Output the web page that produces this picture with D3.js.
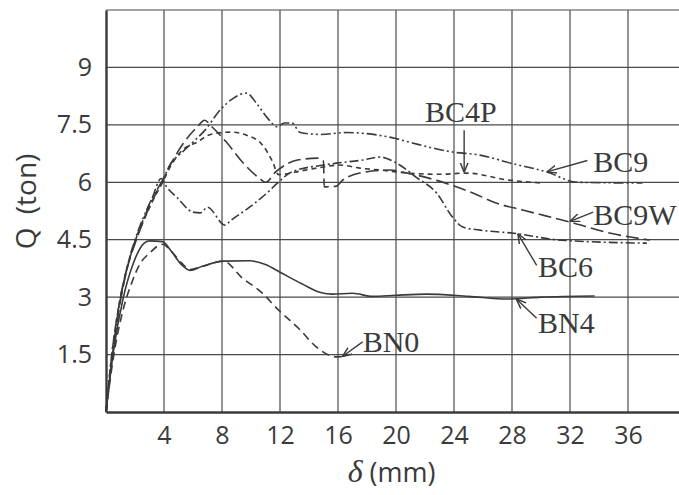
<!DOCTYPE html>
<html>
<head>
<meta charset="utf-8">
<script src="https://cdn.jsdelivr.net/npm/d3@7"></script>
<style>
  body { margin: 0; background: #fff; }
  svg { display: block; }
</style>
</head>
<body>
<script>
// tick labels
const xTicks = [4, 8, 12, 16, 20, 24, 28, 32, 36]
const yTicks = [1.5, 3, 4.5, 6, 7.5, 9]
const yTickLabels = ["1.5", "3", "4.5", "6", "7.5", "9"]

// series, [δ (mm), Q (ton)]
const BN4 = [[0,0],[0.5,1.55],[1.2,3.0],[1.9,3.9],[2.6,4.4],[3,4.47],[3.9,4.45],[4.5,4.2],[5.2,3.85],[5.8,3.7],[6.6,3.8],[8.1,3.94],[9.9,3.95],[11,3.85],[12,3.65],[13.5,3.35],[14.8,3.12],[15.6,3.08],[17,3.1],[18.4,3.02],[20,3.05],[22.1,3.08],[25,3.02],[27.7,2.95],[30,3.0],[33.7,3.03]]
const BN0 = [[0,0],[0.5,1.4],[1.2,2.7],[1.8,3.4],[2.3,3.84],[3,4.15],[3.9,4.38],[4.5,4.2],[5.2,3.9],[5.8,3.72],[6.6,3.8],[8.1,3.94],[9.4,3.5],[10.8,3.1],[11.8,2.7],[13.4,2.14],[14.5,1.7],[15.9,1.44],[16.6,1.45]]
const BC4P = [[0,0],[0.4,1.5],[0.9,2.8],[1.4,3.7],[2,4.45],[2.6,5.0],[3.2,5.5],[3.9,6.0],[4.5,6.45],[5.3,6.85],[6.3,7.05],[7.2,7.25],[8.6,7.31],[9.7,7.23],[10.8,6.97],[11.5,6.53],[11.9,6.2],[13.5,6.3],[15,6.4],[16.1,6.45],[17.5,6.37],[18.9,6.32],[20.8,6.24],[23,6.21],[24.9,6.24],[27.7,6.06],[30.1,5.98]]
const BC9 = [[0,0],[0.45,1.55],[0.95,2.85],[1.5,3.85],[2,4.5],[2.6,5.1],[3.2,5.6],[3.9,6.05],[4.4,6.45],[5.3,6.8],[6,7.05],[6.8,7.35],[7.9,7.9],[8.8,8.2],[9.7,8.33],[10.4,8.05],[11.2,7.65],[11.8,7.45],[12.3,7.55],[12.8,7.55],[13.4,7.3],[14.8,7.25],[16.6,7.3],[17.7,7.28],[19.9,7.15],[21.2,7.02],[23.9,6.79],[25.8,6.71],[27.9,6.5],[30.4,6.27],[32.5,6.0],[37,5.98]]
const BC9W = [[0,0],[0.45,1.5],[0.95,2.8],[1.5,3.8],[2.1,4.5],[2.7,5.1],[3.3,5.6],[3.9,6.05],[4.5,6.5],[5.3,7.0],[6.3,7.45],[6.8,7.62],[7.3,7.45],[8.3,7.05],[9.4,6.53],[10.6,6.1],[11,6.0],[11.7,6.27],[13.2,6.58],[14.6,6.63],[15,6.55],[15.05,5.88],[15.9,5.9],[16.3,6.05],[17.9,6.27],[19.6,6.32],[20.8,6.24],[22.8,6.05],[25.3,5.72],[26.9,5.46],[28.8,5.27],[32,4.96],[34.8,4.67],[37.5,4.49]]
const BC6 = [[0,0],[0.4,1.5],[0.9,2.8],[1.45,3.75],[2,4.45],[2.6,5.05],[3.2,5.6],[3.8,6.1],[4.2,5.87],[4.9,5.6],[6,5.22],[6.5,5.2],[7,5.35],[8.2,4.88],[8.6,5.0],[9.9,5.35],[11.1,5.72],[11.8,5.97],[12.8,6.27],[15,6.45],[15.9,6.5],[17.7,6.58],[18.9,6.66],[19.9,6.53],[21.4,6.13],[22.8,5.72],[23.9,5.09],[24.6,4.83],[25.8,4.75],[28.1,4.67],[31.3,4.49],[37.3,4.41]]

// curve names with dash patterns
const series = [
  {name: "BN4", values: BN4, dash: null},
  {name: "BN0", values: BN0, dash: "8,5"},
  {name: "BC4P", values: BC4P, dash: "5,4"},
  {name: "BC9", values: BC9, dash: "10,3,2,3,2,3"},
  {name: "BC9W", values: BC9W, dash: "13,5"},
  {name: "BC6", values: BC6, dash: "9,3,2,3"},
]

// labels: text position and leader line, in data units
const labels = [
  {text: "BC4P", at: [22.0, 7.57], from: [24.7, 7.36], to: [24.7, 6.26]},
  {text: "BC9", at: [33.6, 6.26], from: [33.2, 6.57], to: [30.4, 6.27]},
  {text: "BC9W", at: [33.6, 4.88], from: [33.6, 5.22], to: [32.0, 4.98]},
  {text: "BC6", at: [29.8, 3.52], from: [29.7, 3.83], to: [28.4, 4.66]},
  {text: "BN4", at: [29.8, 2.06], from: [29.7, 2.45], to: [28.3, 2.95]},
  {text: "BN0", at: [17.7, 1.57], from: [17.7, 1.83], to: [16.3, 1.45]},
]

const width = 679, height = 495
const marginLeft = 106, marginTop = 10, marginBottom = 83
const ink = "#3a3a3a"

const x = d3.scaleLinear([0, 40], [marginLeft, marginLeft + 580])
const y = d3.scaleLinear([0, 10.5], [height - marginBottom, marginTop])

const svg = d3.select("body").append("svg")
  .attr("width", width)
  .attr("height", height)
  .attr("viewBox", [0, 0, width, height])

svg.append("defs").append("marker")
  .attr("id", "arrow")
  .attr("viewBox", "0 0 10 10")
  .attr("refX", 10).attr("refY", 5)
  .attr("markerWidth", 7).attr("markerHeight", 7)
  .attr("orient", "auto")
  .append("path")
  .attr("d", "M0,1L10,5L0,9")
  .attr("fill", "none")
  .attr("stroke", ink)
  .attr("stroke-width", 1.5)

// grid
const grid = svg.append("g").attr("stroke", "#4a4a4a").attr("stroke-width", 1.2)
grid.selectAll(".vx")
  .data(xTicks)
  .join("line")
  .attr("x1", d => x(d)).attr("x2", d => x(d))
  .attr("y1", y(0)).attr("y2", y(10.5))
grid.selectAll(".hy")
  .data(yTicks.concat([10.5]))
  .join("line")
  .attr("x1", x(0)).attr("x2", width)
  .attr("y1", d => y(d)).attr("y2", d => y(d))

// axes lines
svg.append("g")
  .attr("transform", `translate(0,${y(0)})`)
  .call(d3.axisBottom(x).tickValues(xTicks).tickSize(0).tickPadding(14))
  .call(g => g.select(".domain").attr("stroke", ink).attr("stroke-width", 2.4))
  .call(g => g.selectAll("text")
    .attr("fill", ink)
    .attr("font-family", "Open Sans")
    .attr("font-size", 25))

svg.append("g")
  .attr("transform", `translate(${x(0)},0)`)
  .call(d3.axisLeft(y).tickValues(yTicks).tickFormat((d, i) => yTickLabels[i]).tickSize(0).tickPadding(14))
  .call(g => g.select(".domain").attr("stroke", ink).attr("stroke-width", 2.4))
  .call(g => g.selectAll("text")
    .attr("fill", ink)
    .attr("font-family", "Open Sans")
    .attr("font-size", 25))

// curves
const line = d3.line()
  .x(d => x(d[0]))
  .y(d => y(d[1]))
  .curve(d3.curveMonotoneX)

svg.append("g")
  .attr("fill", "none")
  .attr("stroke", ink)
  .attr("stroke-width", 1.6)
  .selectAll("path")
  .data(series)
  .join("path")
  .attr("stroke-dasharray", d => d.dash)
  .attr("d", d => line(d.values))

// curve labels
svg.append("g")
  .attr("stroke", ink)
  .attr("stroke-width", 1.4)
  .selectAll("line")
  .data(labels)
  .join("line")
  .attr("x1", d => x(d.from[0])).attr("y1", d => y(d.from[1]))
  .attr("x2", d => x(d.to[0])).attr("y2", d => y(d.to[1]))
  .attr("marker-end", "url(#arrow)")

svg.append("g")
  .attr("fill", ink)
  .attr("font-family", "Liberation Serif")
  .attr("font-size", 30)
  .selectAll("text")
  .data(labels)
  .join("text")
  .attr("x", d => x(d.at[0]))
  .attr("y", d => y(d.at[1]))
  .text(d => d.text)

// axis titles
svg.append("text")
  .attr("transform", `translate(36,${y(5.5)}) rotate(-90)`)
  .attr("text-anchor", "middle")
  .attr("fill", ink)
  .attr("font-family", "Open Sans")
  .attr("font-size", 28)
  .attr("word-spacing", 6)
  .text("Q (ton)")

svg.append("text")
  .attr("x", x(19.7))
  .attr("y", 482)
  .attr("text-anchor", "middle")
  .attr("fill", ink)
  .attr("font-family", "Open Sans")
  .attr("font-size", 27)
  .call(t => t.append("tspan").attr("font-style", "italic").attr("font-family", "Liberation Serif").attr("font-size", 32).text("δ"))
  .call(t => t.append("tspan").text(" (mm)"))
</script>
</body>
</html>
